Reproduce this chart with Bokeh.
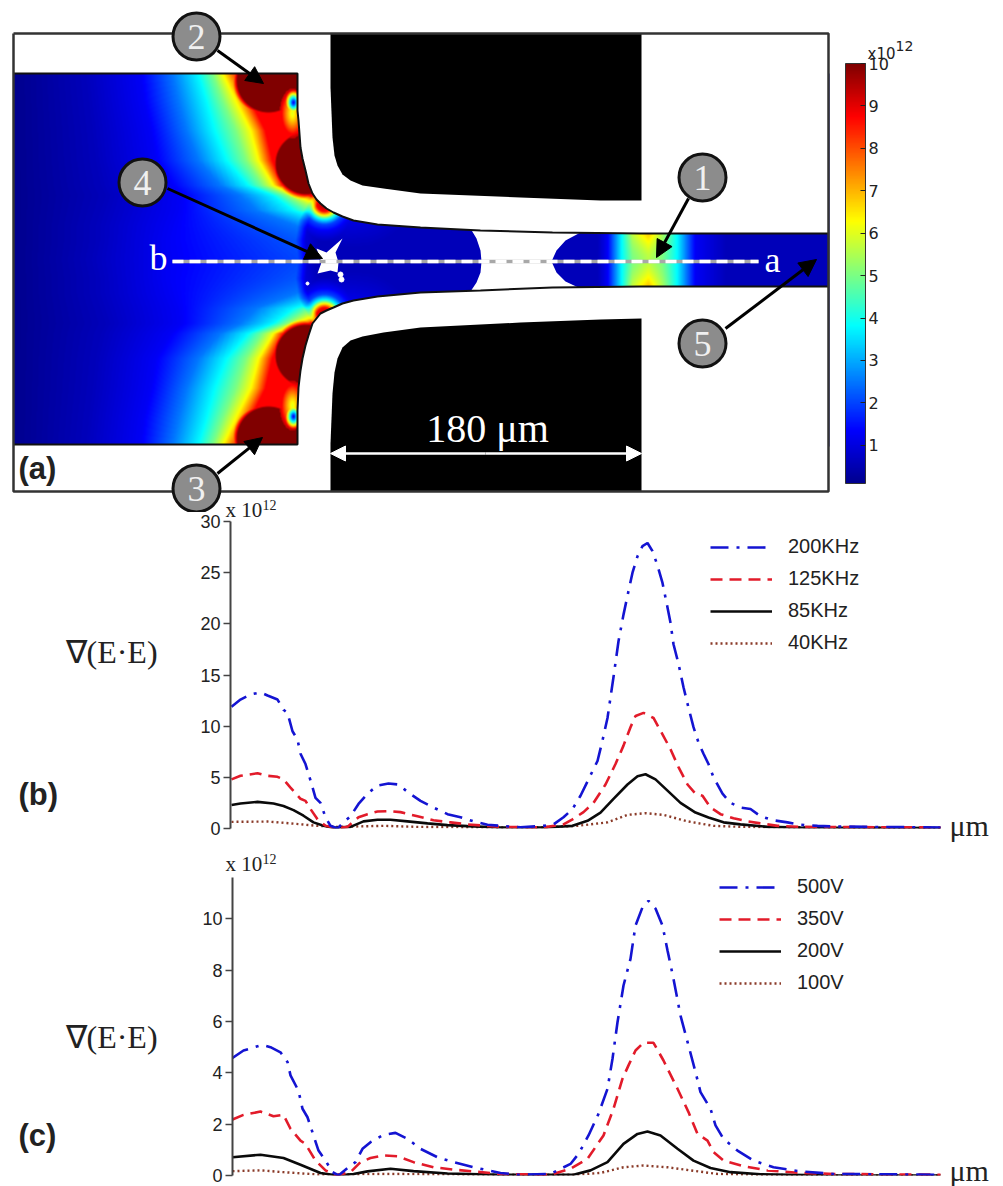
import numpy as np
from bokeh.plotting import figure
from bokeh.layouts import column
from bokeh.embed import file_html
from bokeh.resources import INLINE
from bokeh.core.properties import value
from bokeh.models import (Range1d, Label, Arrow, NormalHead, LinearColorMapper, ColorBar,
                          FixedTicker, Legend, LegendItem)

# ---------- panel (b) curves: position along the channel, value in units of 1e12 ----------
b200_x = [231,240,250,260,267,277,283,287,292,297,300,305,310,315,320,325,330,337,343,350,358,367,377,388,398,408,420,433,447,460,473,487,500,520,
          543,553,563,572,580,588,597,602,607,610,613,618,623,628,632,637,642,647,652,657,662,667,670,673,678,683,688,693,698,703,708,713,722,730,740,750,760,773,787,800,817,833,867,940]
b200_y = [11.9,12.6,13.1,13.3,13.0,12.6,11.6,11.3,9.5,8.7,7.3,6.3,4.7,3.0,2.5,1.1,.26,0,.6,1.2,2.4,3.4,4.2,4.4,4.3,3.5,2.7,2.05,1.4,1.1,.7,.36,.26,.12,
          .26,.4,1.1,1.9,3.2,4.8,6.6,8.6,10.8,12.8,14.8,18.3,20.9,23.2,25,26.6,27.6,27.9,27.1,25.7,24,21.6,20.1,18,16.1,13.8,11.8,9.9,8.4,7.3,6.3,5,3.4,2.5,2.05,1.9,1.2,.8,.6,.36,.26,.2,.16,.1]
b125_x = [231,240,257,267,277,283,290,300,305,310,317,325,337,347,358,367,377,388,400,417,433,450,467,500,
          543,563,572,583,593,605,615,623,630,635,643,653,662,670,678,687,695,702,710,720,733,747,760,777,800,940]
b125_y = [4.8,5.15,5.4,5.15,5.05,4.8,4.0,2.9,2.7,1.9,.9,.26,.03,.16,1.1,1.4,1.66,1.7,1.6,1.2,.8,.6,.4,.16,
          .1,.4,.9,1.6,2.5,4.3,6.3,8.1,9.9,11,11.3,10.8,9.2,7.75,6,4.3,3.4,3.2,2.05,1.4,1,.7,.5,.26,.16,.1]
b85_x = [231,240,257,273,283,293,303,313,323,333,350,363,377,390,407,427,447,467,500,
         543,572,587,600,613,627,637,645,655,667,680,695,708,723,740,767,800,940]
b85_y = [2.3,2.45,2.6,2.45,2.2,1.8,1.25,.6,.26,.07,.16,.7,.85,.85,.7,.5,.33,.23,.1,
         .1,.26,.75,1.56,2.9,4.3,5.1,5.3,4.8,3.7,2.5,1.56,1.07,.6,.4,.16,.1,.05]
b40_x = [231,267,290,317,337,383,417,500,543,577,607,627,645,663,687,713,740,833,940]
b40_y = [.65,.68,.5,.26,.16,.26,.16,.1,.13,.26,.6,1.33,1.5,1.33,.7,.26,.16,.1,.05]

# ---------- panel (c) curves ----------
c500_x = [232,243,262,270,280,287,290,298,302,307,313,318,325,332,338,348,355,362,370,383,395,407,420,437,453,473,500,517,
          550,560,570,578,588,598,607,612,617,623,630,635,642,648,655,662,667,673,680,688,695,700,710,715,723,737,753,773,800,833,940]
c500_y = [4.58,4.87,5.09,5,4.8,4.42,3.9,3.3,2.6,2.27,1.56,.97,.58,.13,0,.32,.52,1.04,1.3,1.58,1.66,1.43,1.04,.71,.52,.32,.1,.03,
          .06,.26,.45,.84,1.56,2.4,3.38,4.55,5.97,7.4,8.44,9.74,10.45,10.7,10.4,9.74,8.77,7.66,6.23,5.06,4.03,3.25,2.6,1.95,1.43,.97,.58,.32,.16,.06,.03]
c350_x = [232,243,260,273,283,290,300,305,315,325,335,350,360,370,383,397,413,433,453,500,
          550,570,587,603,613,622,628,635,643,653,663,677,688,697,707,713,723,743,767,800,833,940]
c350_y = [2.18,2.36,2.49,2.31,2.36,1.82,1.36,1.23,.58,.2,0,.13,.52,.68,.78,.75,.52,.32,.23,.06,
          .03,.26,.65,1.56,2.6,3.77,4.29,4.87,5.17,5.17,4.48,3.38,2.47,1.62,1.36,.91,.58,.36,.2,.1,.06,.03]
c200_x = [232,260,283,300,320,337,353,367,390,413,447,500,573,590,607,623,637,647,660,677,693,710,730,760,833,940]
c200_y = [.71,.81,.68,.42,.1,0,.06,.16,.26,.17,.08,.03,.03,.2,.52,1.23,1.62,1.71,1.56,1.04,.58,.29,.13,.05,0,0]
c100_x = [232,260,283,317,390,500,573,600,623,643,667,690,717,750,833,940]
c100_y = [.17,.2,.13,.04,.06,.03,.03,.1,.32,.39,.32,.2,.06,.03,0,0]

b_labels = ["200KHz", "125KHz", "85KHz", "40KHz"]
c_labels = ["500V", "350V", "200V", "100V"]
b_ticks = [0, 5, 10, 15, 20, 25, 30]
c_ticks = [0, 2, 4, 6, 8, 10]
bar_ticks = [1, 2, 3, 4, 5, 6, 7, 8, 9, 10]

# ---------- panel (a): field (units 1e12) ----------
FIELD_LEVELS = [0.1, 0.6, 1.25, 2.5, 3.75, 5, 6.25, 7.5, 8.75]
FIELD_ROW_Y = [73, 100, 130, 160, 185, 195, 210, 225, 240, 262]
FIELD_ROW_X = [
    [13, 85, 140, 172, 197, 212, 222, 230, 238],
    [13, 88, 143, 178, 205, 222, 235, 243, 250],
    [13, 92, 150, 186, 213, 235, 250, 258, 265],
    [13, 95, 155, 198, 225, 245, 258, 265, 272],
    [13, 100, 170, 220, 247, 262, 273, 278, 283],
    [13, 105, 180, 240, 272, 285, 295, 302, 308],
    [13, 100, 178, 255, 292, 310, 330, 350, 370],
    [13, 95, 172, 295, 340, 400, 450, 500, 550],
    [13, 95, 168, 340, 380, 420, 460, 500, 550],
    [13, 90, 170, 380, 420, 450, 500, 550, 600],
]
CUT_Y = [73, 195, 205, 220, 240, 262]
CUT_X = [320, 312, 306, 298, 295, 298]
CH_X = [300, 320, 345, 370, 400, 430, 480, 552, 593, 607, 621, 632, 648, 662, 677, 695, 730, 828]
CH_MID = [1.0, .45, .5, .5, .4, .3, .2, .1, .3, 1.25, 3.75, 5, 5.6, 5, 3.75, 1.25, .5, .2]
CH_WALL = [1.2, 1.0, 1.15, .9, .6, .4, .2, .1, .3, 1.25, 3.75, 5.8, 7, 5.5, 3.75, 1.25, .5, .2]
HALF_X = [300, 333, 353, 377, 420, 480, 828]
HALF_W = [65, 47, 40, 34, 31, 30, 26]
HOT_DISKS = [(268, 80, 31), (306, 163, 30)]
COOL_SPOTS = [(292, 113, 13, 25, 6.0), (293, 102, 9, 13, 1.2)]
SMALL_HOT = (324, 203)
SMALL_HOT_R = [0, 8, 12, 16, 21, 28, 38]
SMALL_HOT_V = [10, 8.75, 6.25, 3.75, 2, 1.2, .6]

JET_POS = [0, .125, .375, .625, .875, 1]
JET_R = [0, 0, 0, 255, 255, 128]
JET_G = [0, 0, 255, 255, 0, 0]
JET_B = [143, 255, 255, 0, 0, 0]
t = np.linspace(0, 1, 256)
jet = ["#%02x%02x%02x" % (int(np.interp(i, JET_POS, JET_R)), int(np.interp(i, JET_POS, JET_G)), int(np.interp(i, JET_POS, JET_B))) for i in t]
mapper = LinearColorMapper(palette=jet, low=0.1, high=10)

xs = np.arange(13, 829) + .5
ys = np.arange(73, 446) + .5
MID = 259
field = np.zeros((len(ys), len(xs)))
rows = np.array(FIELD_ROW_X, float)
for j, y in enumerate(ys):
    yp = MID - abs(y - MID)
    knots = [np.interp(yp, FIELD_ROW_Y, rows[:, k]) for k in range(rows.shape[1])]
    base = np.interp(xs, knots, FIELD_LEVELS)
    for cx, cy, r in HOT_DISKS:
        d = np.hypot(xs - cx, yp - cy) / r
        base = np.maximum(base, np.interp(d, [0, 1, 1.06, 1.2, 1.21], [10, 10, 8.75, 6, 0]))
    for cx, cy, rx, ry, vmin in COOL_SPOTS:
        u = np.hypot((xs - cx) / rx, (yp - cy) / ry)
        base = np.minimum(base, np.where(u < 1, vmin + (9.5 - vmin) * u ** 1.2, 99))
    half = np.interp(xs, HALF_X, HALF_W)
    tt = np.clip(abs(y - MID) / half, 0, 1) ** 1.5
    ch = np.interp(xs, CH_X, CH_MID) * (1 - tt) + np.interp(xs, CH_X, CH_WALL) * tt
    ch = np.maximum(ch, np.interp(np.hypot(xs - SMALL_HOT[0], yp - SMALL_HOT[1]), SMALL_HOT_R, SMALL_HOT_V))
    w = np.clip((xs - np.interp(yp, CUT_Y, CUT_X)) / 10, 0, 1)
    field[j] = base * (1 - w) + ch * w

# geometry of the device (reference page coordinates)
WALL_TOP = [(297,73),(297,110),(298,120),(300,147),(302,158),(305,170),(308,183),(312,193),(316,199),(320,203),(326,208),(333,212),(342,216),(353,220),(377,224),(420,227),(480,230),(552,232),(640,233),(828,233)]
WALL_BOT = [(297,444),(297,410),(298,387),(300,370),(302,358),(305,345),(308,335),(312,323),(316,318),(320,313),(326,310),(333,307),(342,303),(353,300),(377,296),(420,292),(480,290),(552,287),(640,286),(828,286)]
ELEC_TOP = [(330,33),(641,33),(641,200),(600,200),(520,197),(420,193),(383,188),(362,185),(350,180),(342,174),(337,165),(334,155),(332,137),(330,87)]
ELEC_BOT = [(330,491),(641,491),(641,318),(600,319),(520,322),(420,327),(383,332),(362,336),(350,340),(342,347),(337,358),(334,372),(332,393),(330,443)]
GAP = [(470,228),(476,238),(480,250),(481,261),(480,272),(476,282),(470,291),(580,288),(565,281),(556,272),(551,261),(556,250),(565,240),(580,232)]
STAR = [(342,238),(335,252),(338,262),(337,272),(330,270),(317,273),(321,262),(316,248),(326,252)]
MARKS = [(1,702,177),(2,196,36),(3,196,488),(4,142,182),(5,702,343)]
ARROWS = [(688,198,656,257),(217,50,263,83),(217,473,262,437),(167,188,322,258),(725,328,816,259)]

Y = lambda v: 512 - v
SERIF = "Liberation Serif"
SANS = "Liberation Sans"
INK = "#222222"

a = figure(width=1003, height=512, x_range=Range1d(0, 1003), y_range=Range1d(0, 512),
           output_backend="svg", toolbar_location=None, x_axis_location=None, y_axis_location=None,
           min_border=0, outline_line_color=None, frame_align=False)
a.grid.visible = False
a.image(image=[field[::-1]], x=13, y=Y(446), dw=816, dh=373, color_mapper=mapper)
up = WALL_TOP + [(828, 33), (13, 33), (13, 73)]
lo = WALL_BOT + [(828, 491), (13, 491), (13, 444)]
for poly in (up, lo):
    a.patch([q[0] for q in poly], [Y(q[1]) for q in poly], fill_color="white", line_color=None)
for poly in (ELEC_TOP, ELEC_BOT):
    a.patch([q[0] for q in poly], [Y(q[1]) for q in poly], fill_color="black", line_color=None)
a.patch([q[0] for q in GAP], [Y(q[1]) for q in GAP], fill_color="white", line_color=None)
a.patch([q[0] for q in STAR], [Y(q[1]) for q in STAR], fill_color="white", line_color=None)
a.scatter([328, 340, 341, 307], [Y(261), Y(274), Y(279), Y(283)], size=[14, 5, 5, 3], color="white")
for wall, start in ((WALL_TOP, (13, 73)), (WALL_BOT, (13, 444))):
    pts = [start] + wall
    a.line([q[0] for q in pts], [Y(q[1]) for q in pts], line_color="#111111", line_width=2)
a.line([172, 758], [Y(261), Y(261)], line_color="#a8a8a8", line_width=3.5)
a.line([172, 758], [Y(261), Y(261)], line_color="white", line_width=3.5, line_dash="11 6")
a.line([13, 828, 828, 13, 13], [Y(33), Y(33), Y(491), Y(491), Y(33)], line_color="#333333", line_width=2.5)
for xa, ya, xb, yb in ARROWS:
    a.add_layout(Arrow(x_start=xa, y_start=Y(ya), x_end=xb, y_end=Y(yb), line_color="black", line_width=3,
                       end=NormalHead(size=17, fill_color="black", line_color="black")))
for s, e in ((485, 330), (485, 641)):
    a.add_layout(Arrow(x_start=s, y_start=Y(453), x_end=e, y_end=Y(453), line_color="white", line_width=2.5,
                       end=NormalHead(size=15, fill_color="white", line_color="white")))
a.scatter([m[1] for m in MARKS], [Y(m[2]) for m in MARKS], size=47, marker="circle",
          fill_color="#8c8c8c", line_color="#111111", line_width=3)
a.text([m[1] for m in MARKS], [Y(m[2]) for m in MARKS], text=[str(m[0]) for m in MARKS], text_color="#f0f0f0",
       text_font=value(SERIF), text_font_size={"value": "36px"}, text_align="center", text_baseline="middle")
a.text([158, 772, 487], [Y(257), Y(259), Y(428)], text=["b", "a", "180 μm"], text_color="white",
       text_font=value(SERIF), text_font_size=["36px", "36px", "40px"], text_align="center", text_baseline="alphabetic")
cb = ColorBar(color_mapper=mapper, ticker=FixedTicker(ticks=bar_ticks), location=(845, 29), width=20, height=420,
              padding=0, margin=0, major_tick_in=5, major_tick_line_color="#222222", minor_tick_line_color=None,
              bar_line_color="#333333", label_standoff=3, major_label_text_font="DejaVu Sans",
              major_label_text_font_size="16px", major_label_text_color=INK, background_fill_color=None, border_line_color=None)
a.add_layout(cb)


def panel(top, height, frame_top, frame_bottom, ax_x, scale, axis_top, ticks, margin):
    p = figure(width=1003, height=height, x_range=Range1d(ax_x, 1003), y_range=Range1d(0, (frame_bottom - frame_top) / scale),
               output_backend="svg", toolbar_location=None, x_axis_location=None, margin=margin,
               min_border_left=ax_x, min_border_right=0, min_border_top=frame_top - top,
               min_border_bottom=top + height - frame_bottom, outline_line_color=None,
               background_fill_color=None, border_fill_color=None, frame_align=False)
    p.grid.visible = False
    ax = p.yaxis[0]
    ax.ticker = FixedTicker(ticks=ticks)
    ax.bounds = (0, axis_top)
    ax.axis_line_color = "#444444"
    ax.axis_line_width = 2
    ax.major_tick_line_color = "#444444"
    ax.major_tick_line_width = 1.5
    ax.major_tick_in = 0
    ax.major_tick_out = 7
    ax.minor_tick_line_color = None
    ax.major_label_text_font = SANS
    ax.major_label_text_font_size = "18px"
    ax.major_label_text_color = INK
    ax.major_label_standoff = 3
    return p


def curves(p, sets, labels, loc):
    styles = [dict(line_color="#1414d2", line_width=2.6, line_dash="18 8 3 8"),
              dict(line_color="#e21b2a", line_width=2.6, line_dash="12 7"),
              dict(line_color="#0a0a0a", line_width=2.6),
              dict(line_color="#8a3a28", line_width=2.4, line_dash="2 3")]
    rs = {}
    for i in [3, 2, 1, 0]:
        rs[i] = p.line(sets[i][0], sets[i][1], **styles[i])
    items = [LegendItem(label=labels[i], renderers=[rs[i]]) for i in range(4)]
    lg = Legend(items=items, location=loc, orientation="vertical", border_line_color=None, background_fill_alpha=0,
                padding=0, margin=0, spacing=9, glyph_width=62, glyph_height=22, label_height=22, label_standoff=16,
                label_text_font=SANS, label_text_font_size="20px", label_text_color=INK)
    p.add_layout(lg)


b = panel(492, 353, 521, 828, 230, 307 / 30, 30, b_ticks, (-20, 0, 0, 0))
curves(b, [(b200_x, b200_y), (b125_x, b125_y), (b85_x, b85_y), (b40_x, b40_y)], b_labels, (480, 174))

c = panel(845, 341, 860, 1175, 232, 25.67, 11.6, c_ticks, 0)
curves(c, [(c500_x, c500_y), (c350_x, c350_y), (c200_x, c200_y), (c100_x, c100_y)], c_labels, (487, 181))

# free-standing page notes, drawn on a transparent sheet that lies over the three panels
sheet = figure(width=1003, height=1186, x_range=Range1d(0, 1003), y_range=Range1d(0, 1186), margin=(-1186, 0, 0, 0),
               output_backend="svg", toolbar_location=None, x_axis_location=None, y_axis_location=None,
               min_border=0, outline_line_color=None, background_fill_color=None, border_fill_color=None, frame_align=False)
sheet.grid.visible = False
NOTES = [("x10", 867, 53, "DejaVu Sans", "15px", "normal"), ("12", 895, 45, "DejaVu Sans", "14px", "normal"),
         ("(a)", 18, 468, SANS, "31px", "bold"), ("(b)", 18, 794, SANS, "31px", "bold"), ("(c)", 18, 1135, SANS, "31px", "bold"),
         ("x 10", 225, 509, SERIF, "21px", "normal"), ("12", 262, 504, SERIF, "14px", "normal"),
         ("x 10", 225, 863, SERIF, "21px", "normal"), ("12", 262, 858, SERIF, "14px", "normal"),
         ("∇(E·E)", 65, 651, SERIF, "32px", "normal"), ("∇(E·E)", 65, 1036, SERIF, "32px", "normal"),
         ("μm", 949, 825, SERIF, "30px", "normal"), ("μm", 949, 1170, SERIF, "30px", "normal")]
for txt, x0, y0, fam, size, style in NOTES:
    sheet.add_layout(Label(x=x0, y=1186 - y0, text=txt, text_font=fam, text_font_size=size, text_font_style=style,
                           text_color=INK, text_baseline="alphabetic"))

page = column(a, b, c, sheet, spacing=0)
open("out.html", "w").write(file_html(page, INLINE))
